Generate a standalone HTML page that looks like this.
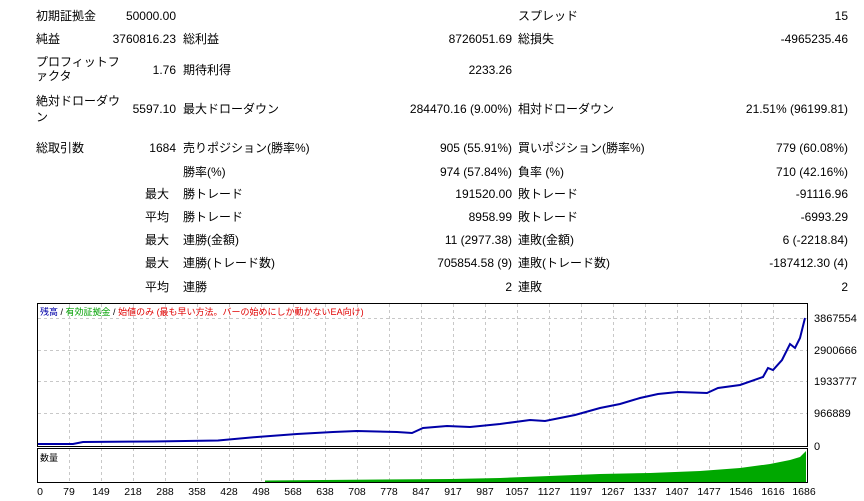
<!DOCTYPE html>
<html><head><meta charset="utf-8"><style>
body{margin:0;width:864px;height:501px;background:#fff;position:relative;overflow:hidden;font-family:"Liberation Sans","Noto Sans CJK JP",sans-serif;font-size:12px;color:#000}
.t{position:absolute;white-space:nowrap;line-height:14px}
.r{text-align:right}
</style></head><body>
<div class="t" style="left:36px;top:9px">初期証拠金</div><div class="t r" style="right:688px;top:9px">50000.00</div>
<div class="t" style="left:518px;top:9px">スプレッド</div><div class="t r" style="right:16px;top:9px">15</div>

<div class="t" style="left:36px;top:32px">純益</div><div class="t r" style="right:688px;top:32px">3760816.23</div>
<div class="t" style="left:183px;top:32px">総利益</div><div class="t r" style="right:352px;top:32px">8726051.69</div>
<div class="t" style="left:518px;top:32px">総損失</div><div class="t r" style="right:16px;top:32px">-4965235.46</div>

<div class="t" style="left:36px;top:55px">プロフィットフ</div><div class="t" style="left:36px;top:69px">ァクタ</div>
<div class="t r" style="right:688px;top:63px">1.76</div>
<div class="t" style="left:183px;top:63px">期待利得</div><div class="t r" style="right:352px;top:63px">2233.26</div>

<div class="t" style="left:36px;top:94px">絶対ドローダウ</div><div class="t" style="left:36px;top:110px">ン</div>
<div class="t r" style="right:688px;top:102px">5597.10</div>
<div class="t" style="left:183px;top:102px">最大ドローダウン</div><div class="t r" style="right:352px;top:102px">284470.16 (9.00%)</div>
<div class="t" style="left:518px;top:102px">相対ドローダウン</div><div class="t r" style="right:16px;top:102px">21.51% (96199.81)</div>

<div class="t" style="left:36px;top:141px">総取引数</div><div class="t r" style="right:688px;top:141px">1684</div>
<div class="t" style="left:183px;top:141px">売りポジション(勝率%)</div><div class="t r" style="right:352px;top:141px">905 (55.91%)</div>
<div class="t" style="left:518px;top:141px">買いポジション(勝率%)</div><div class="t r" style="right:16px;top:141px">779 (60.08%)</div>

<div class="t" style="left:183px;top:165px">勝率(%)</div><div class="t r" style="right:352px;top:165px">974 (57.84%)</div>
<div class="t" style="left:518px;top:165px">負率 (%)</div><div class="t r" style="right:16px;top:165px">710 (42.16%)</div>

<div class="t" style="left:145px;top:187px">最大</div><div class="t" style="left:183px;top:187px">勝トレード</div><div class="t r" style="right:352px;top:187px">191520.00</div>
<div class="t" style="left:518px;top:187px">敗トレード</div><div class="t r" style="right:16px;top:187px">-91116.96</div>

<div class="t" style="left:145px;top:210px">平均</div><div class="t" style="left:183px;top:210px">勝トレード</div><div class="t r" style="right:352px;top:210px">8958.99</div>
<div class="t" style="left:518px;top:210px">敗トレード</div><div class="t r" style="right:16px;top:210px">-6993.29</div>

<div class="t" style="left:145px;top:233px">最大</div><div class="t" style="left:183px;top:233px">連勝(金額)</div><div class="t r" style="right:352px;top:233px">11 (2977.38)</div>
<div class="t" style="left:518px;top:233px">連敗(金額)</div><div class="t r" style="right:16px;top:233px">6 (-2218.84)</div>

<div class="t" style="left:145px;top:256px">最大</div><div class="t" style="left:183px;top:256px">連勝(トレード数)</div><div class="t r" style="right:352px;top:256px">705854.58 (9)</div>
<div class="t" style="left:518px;top:256px">連敗(トレード数)</div><div class="t r" style="right:16px;top:256px">-187412.30 (4)</div>

<div class="t" style="left:145px;top:280px">平均</div><div class="t" style="left:183px;top:280px">連勝</div><div class="t r" style="right:352px;top:280px">2</div>
<div class="t" style="left:518px;top:280px">連敗</div><div class="t r" style="right:16px;top:280px">2</div>

<svg width="864" height="501" style="position:absolute;left:0;top:0" font-family="Liberation Sans, Noto Sans CJK JP, sans-serif" font-size="10">
<g stroke="#c8c8c8" stroke-dasharray="3,3" stroke-width="1">
<line x1="38" x2="807" y1="318.5" y2="318.5"/><line x1="38" x2="807" y1="350.5" y2="350.5"/><line x1="38" x2="807" y1="381.5" y2="381.5"/><line x1="38" x2="807" y1="413.5" y2="413.5"/>
<path id="vg" d="M69.5 304V482M101.5 304V482M133.5 304V482M165.5 304V482M197.5 304V482M229.5 304V482M261.5 304V482M293.5 304V482M325.5 304V482M357.5 304V482M389.5 304V482M421.5 304V482M453.5 304V482M485.5 304V482M517.5 304V482M549.5 304V482M581.5 304V482M613.5 304V482M645.5 304V482M677.5 304V482M709.5 304V482M741.5 304V482M773.5 304V482"/>
</g>
<rect x="0" y="446" width="864" height="2" fill="#fff"/>
<path d="M265 482L265 480.5L450 479L500 478L600 474L650 473L700 471L740 468L770 464L790 460L800 457L806 451L806 482Z" fill="#00a800"/>
<polyline fill="none" stroke="#0000a8" stroke-width="2" points="37,444 73,444 83,442 153,441.5 218,440.5 257,437 297,434 333,432 357,431 397,432 412,433 423,428 447,426 470,427 500,424 530,420 545,421 575,415 600,408 620,404 640,398 658,394 678,392 707,393 718,388 740,385 763,377 768,368 773,370 782,360 790,344 795,348 800,338 805,318"/>
<rect x="37.5" y="303.5" width="770" height="143" fill="none" stroke="#000"/>
<rect x="37.5" y="448.5" width="770" height="34" fill="none" stroke="#000"/>
<text x="40" y="315" font-size="9"><tspan fill="#0000a8">残高</tspan><tspan fill="#000"> / </tspan><tspan fill="#00a000">有効証拠金</tspan><tspan fill="#000"> / </tspan><tspan fill="#e00000">始値のみ (最も早い方法。バーの始めにしか動かないEA向け)</tspan></text>
<text x="40" y="461" font-size="9">数量</text>
<g font-size="11" fill="#000">
<text x="814" y="322">3867554</text><text x="814" y="354">2900666</text><text x="814" y="385">1933777</text><text x="814" y="417">966889</text><text x="814" y="450">0</text>
</g>
<g font-size="10.5" text-anchor="middle">
<text x="40" y="495">0</text><text x="69" y="495">79</text><text x="101" y="495">149</text><text x="133" y="495">218</text><text x="165" y="495">288</text><text x="197" y="495">358</text><text x="229" y="495">428</text><text x="261" y="495">498</text><text x="293" y="495">568</text><text x="325" y="495">638</text><text x="357" y="495">708</text><text x="389" y="495">778</text><text x="421" y="495">847</text><text x="453" y="495">917</text><text x="485" y="495">987</text><text x="517" y="495">1057</text><text x="549" y="495">1127</text><text x="581" y="495">1197</text><text x="613" y="495">1267</text><text x="645" y="495">1337</text><text x="677" y="495">1407</text><text x="709" y="495">1477</text><text x="741" y="495">1546</text><text x="773" y="495">1616</text><text x="804" y="495">1686</text>
</g>
</svg>
</body></html>
